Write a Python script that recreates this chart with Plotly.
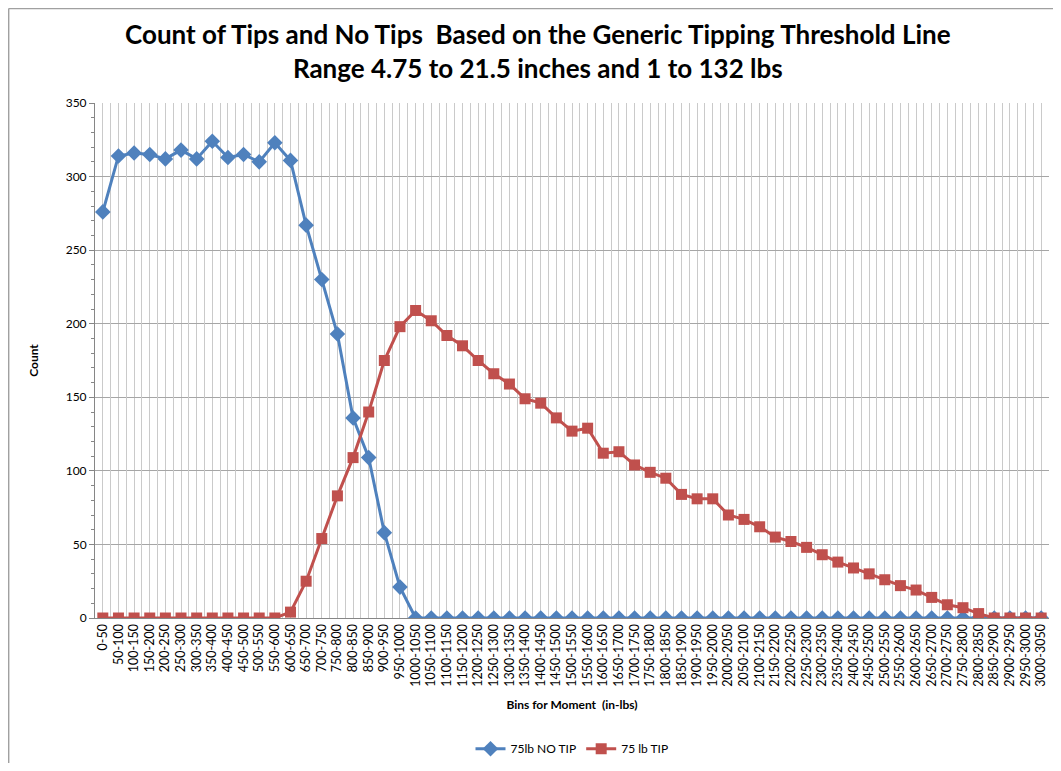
import plotly.graph_objects as go

# bins for moment (in-lbs), 0-50 .. 3000-3050
bins = ["%d-%d" % (b, b + 50) for b in range(0, 3050, 50)]

no_tip = [276, 314, 316, 315, 312, 318, 312, 324, 313, 315, 310, 323, 311,
          267, 230, 193, 136, 109, 58, 21] + [0] * 41

tip = [0] * 12 + [4, 25, 54, 83, 109, 140, 175, 198, 209, 202, 192, 185, 175,
                  166, 159, 149, 146, 136, 127, 129, 112, 113, 104, 99, 95, 84,
                  81, 81, 70, 67, 62, 55, 52, 48, 43, 38, 34, 30, 26, 22, 19,
                  14, 9, 7, 3, 0, 0, 0, 0]

blue = '#4F81BD'
red = '#C0504D'
font = 'Lato'

fig = go.Figure()
fig.add_trace(go.Scatter(x=bins, y=no_tip, name='75lb NO TIP', mode='lines+markers',
                         line=dict(color=blue, width=3),
                         marker=dict(symbol='diamond', size=12, color=blue)))
# second series on an overlaid category axis so its grid can sit on the bin boundaries
fig.add_trace(go.Scatter(x=bins, y=tip, name='75 lb TIP', mode='lines+markers',
                         xaxis='x2',
                         line=dict(color=red, width=3),
                         marker=dict(symbol='square', size=11, color=red)))

x_axis_config = dict(type='category', categoryorder='array', categoryarray=bins,
                     range=[-0.5, len(bins) - 0.5], tickangle=-90,
                     showgrid=True, gridcolor='#CACACA', gridwidth=1,
                     showline=True, linecolor='#868686', linewidth=1,
                     ticks='', tickfont=dict(size=12.5, color='#000'),
                     title=dict(text='<b>Bins for Moment  (in-lbs)</b>',
                                font=dict(size=12, color='#000'), standoff=14))
x2_axis_config = dict(type='category', categoryorder='array', categoryarray=bins,
                      overlaying='x', matches='x', tickson='boundaries',
                      showgrid=True, gridcolor='#CACACA', gridwidth=1,
                      showticklabels=False, ticks='', showline=False)
y_axis_config = dict(range=[0, 350], dtick=50, showgrid=True, gridcolor='#A6A6A6',
                     showline=True, linecolor='#868686', linewidth=1,
                     ticks='outside', ticklen=5, tickcolor='#868686',
                     minor=dict(dtick=10, ticks='outside', ticklen=3,
                                tickcolor='#868686', showgrid=False),
                     zeroline=False, tickfont=dict(size=12, color='#000'),
                     title=dict(text='<b>Count</b>', font=dict(size=12, color='#000'),
                                standoff=24))

# chart-area frame (left and top edges)
frame = dict(type='line', xref='paper', yref='paper', line=dict(color='#A0A0A0', width=1.5))

fig.update_layout(
    width=1045, height=755,
    paper_bgcolor='white', plot_bgcolor='white',
    font=dict(family=font, color='#000'),
    title=dict(text='<b>Count of Tips and No Tips  Based on the Generic Tipping Threshold Line'
                    '<br>Range 4.75 to 21.5 inches and 1 to 132 lbs</b>',
               x=0.507, xanchor='center', y=0.952, yanchor='middle',
               font=dict(size=26, family=font, color='#000')),
    xaxis=x_axis_config, xaxis2=x2_axis_config, yaxis=y_axis_config,
    legend=dict(orientation='h', x=0.5, xanchor='center', y=-0.254, yanchor='middle',
                font=dict(size=12, color='#000')),
    shapes=[dict(frame, x0=-0.0905, x1=-0.0905, y0=-0.3, y1=1.1835),
            dict(frame, x0=-0.0905, x1=1.01, y0=1.1835, y1=1.1835)],
    margin=dict(l=87, r=4, t=95, b=145, autoexpand=False),
)

fig.write_html("out.html")
